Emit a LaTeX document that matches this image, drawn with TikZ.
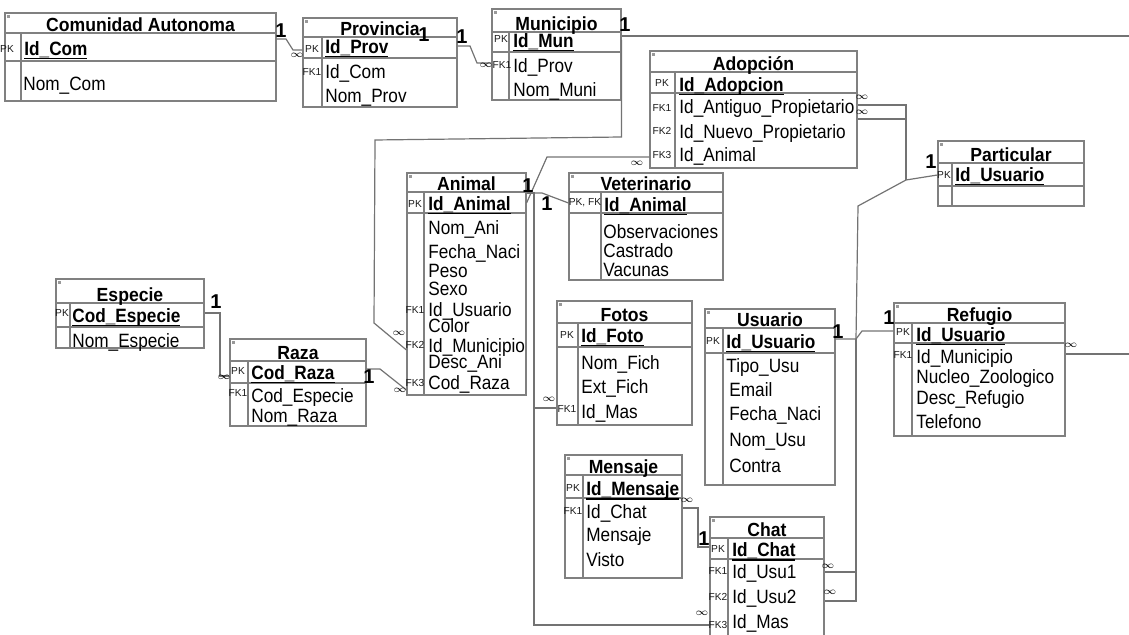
\documentclass[tikz,border=0pt]{standalone}
\usepackage{fontspec}
\setmainfont{Liberation Sans}
\usetikzlibrary{fit}

\newcommand{\atrfont}{\fontsize{8.6}{10}\selectfont}
\newcommand{\titfont}{\fontsize{8.8}{10}\selectfont\bfseries}
\newcommand{\clavefont}{\fontsize{5.1}{6}\selectfont}
\newcommand{\unofont}{\fontsize{10}{11}\selectfont\bfseries}
\newcommand{\muchosfont}{\fontsize{5}{6}\selectfont}
\newcommand{\alto}[1]{\scalebox{1}[1.12]{#1}}
\newcommand{\idpk}[1]{\sbox0{\bfseries #1}\rlap{\rule[-1.8pt]{\wd0}{0.7pt}}\alto{\usebox0}}

\tikzset{
  tabframe/.style={draw=black!50, line width=0.55pt, inner sep=0pt},
  tabline/.style={draw=black!50, line width=0.55pt},
  tabtitle/.style={font=\titfont, inner sep=0pt, text height=6.8pt, text depth=0pt},
  attr/.style={font=\atrfont, anchor=west, inner sep=0pt, text height=6.9pt, text depth=0pt},
  keylab/.style={font=\clavefont, inner sep=0pt, text=black!90},
  lbluno/.style={font=\unofont, inner sep=0pt},
  lblmuchos/.style={font=\muchosfont, inner sep=0pt},
  rel/.style={draw=black!55, line width=0.6pt},
}

% name, left, top, right, bottom, title row, pk row, key column, title
\newcommand{\tabla}[9]{%
  \node[tabframe, fit={(#2,#3) (#4,#5)}] (#1) {};
  \draw[tabline] (#2,#6) -- (#4,#6);
  \draw[tabline] (#2,#7) -- (#4,#7);
  \draw[tabline] (#8,#6) -- (#8,#5);
  \fill[black!40] (#2+2,#3+2) rectangle (#2+5,#3+5);
  \node[tabtitle] (#1-tit) at ({(#2+#4)/2},#6-8) {\scalebox{1}[1.08]{#9}};
}

\begin{document}
\begin{tikzpicture}[x=0.5pt, y=-0.5pt]
\useasboundingbox (0,0) rectangle (1129,635);
\clip (0,0) rectangle (1129,635);

\tabla{com}{5}{13}{276}{101}{33}{61}{21}{Comunidad Autonoma}
\tabla{prov}{303}{18}{457}{107}{37}{58}{322}{Provincia}
\tabla{mun}{492}{9}{621}{100}{32}{52}{509}{Municipio}
\tabla{adop}{650}{51}{857}{168}{72}{93}{675}{Adopción}
\tabla{part}{938}{141}{1084}{206}{163}{186}{952}{Particular}
\tabla{anim}{407}{173}{526}{395}{192}{213}{424}{Animal}
\tabla{vet}{569}{173}{723}{280}{192}{213}{601}{Veterinario}
\tabla{esp}{56}{279}{204}{348}{303}{327}{70}{Especie}
\tabla{raza}{230}{339}{366}{426}{361}{383}{248}{Raza}
\tabla{fotos}{557}{301}{692}{425}{323}{347}{578}{Fotos}
\tabla{usu}{705}{309}{835}{485}{328}{353}{723}{Usuario}
\tabla{refu}{894}{303}{1065}{436}{323}{343}{912}{Refugio}
\tabla{mens}{565}{455}{682}{578}{475}{498}{583}{Mensaje}
\tabla{chat}{710}{517}{824}{660}{538}{559}{728}{Chat}

\node[keylab] (com-k1) at (7,49) {PK};
\node[attr] (com-pk) at (24,49) {\idpk{Id\_Com}};
\node[attr] (com-1) at (23,84) {\alto{Nom\_Com}};

\node[keylab] (prov-k1) at (312,49) {PK};
\node[keylab] (prov-k2) at (312,72) {FK1};
\node[attr] (prov-pk) at (325,47) {\idpk{Id\_Prov}};
\foreach \yy/\nom [count=\i] in {72/Id\_Com, 96/Nom\_Prov}
  \node[attr] (prov-\i) at (325,\yy) {\alto{\nom}};

\node[keylab] (mun-k1) at (501,39) {PK};
\node[keylab] (mun-k2) at (502,65) {FK1};
\node[attr] (mun-pk) at (513,41) {\idpk{Id\_Mun}};
\foreach \yy/\nom [count=\i] in {66/Id\_Prov, 90/Nom\_Muni}
  \node[attr] (mun-\i) at (513,\yy) {\alto{\nom}};

\node[keylab] (adop-k1) at (662,83) {PK};
\node[keylab] (adop-k2) at (662,108) {FK1};
\node[keylab] (adop-k3) at (662,131) {FK2};
\node[keylab] (adop-k4) at (662,155) {FK3};
\node[attr] (adop-pk) at (679,85) {\idpk{Id\_Adopcion}};
\foreach \yy/\nom [count=\i] in {107/Id\_Antiguo\_Propietario, 132/Id\_Nuevo\_Propietario, 155/Id\_Animal}
  \node[attr] (adop-\i) at (679,\yy) {\alto{\nom}};

\node[keylab] (part-k1) at (944,175) {PK};
\node[attr] (part-pk) at (955,175) {\idpk{Id\_Usuario}};

\node[keylab] (anim-k1) at (415,204) {PK};
\node[keylab] (anim-k2) at (415,310) {FK1};
\node[keylab] (anim-k3) at (415,345) {FK2};
\node[keylab] (anim-k4) at (415,383) {FK3};
\node[attr] (anim-pk) at (428,204) {\idpk{Id\_Animal}};
\foreach \yy/\nom [count=\i] in {228/Nom\_Ani, 252/Fecha\_Naci, 271/Peso, 289/Sexo, 310/Id\_Usuario, 326/Color, 346/Id\_Municipio, 362/Desc\_Ani, 383/Cod\_Raza}
  \node[attr] (anim-\i) at (428,\yy) {\alto{\nom}};

\node[keylab] (vet-k1) at (585,203) {PK, FK};
\node[attr] (vet-pk) at (604,205) {\idpk{Id\_Animal}};
\foreach \yy/\nom [count=\i] in {232/Observaciones, 251/Castrado, 270/Vacunas}
  \node[attr] (vet-\i) at (603,\yy) {\alto{\nom}};

\node[keylab] (esp-k1) at (62,313) {PK};
\node[attr] (esp-pk) at (72,316) {\idpk{Cod\_Especie}};
\node[attr] (esp-1) at (72,341) {\alto{Nom\_Especie}};

\node[keylab] (raza-k1) at (238,371) {PK};
\node[keylab] (raza-k2) at (238,393) {FK1};
\node[attr] (raza-pk) at (251,373) {\idpk{Cod\_Raza}};
\foreach \yy/\nom [count=\i] in {396/Cod\_Especie, 416/Nom\_Raza}
  \node[attr] (raza-\i) at (251,\yy) {\alto{\nom}};

\node[keylab] (fotos-k1) at (567,335) {PK};
\node[keylab] (fotos-k2) at (567,409) {FK1};
\node[attr] (fotos-pk) at (581,336) {\idpk{Id\_Foto}};
\foreach \yy/\nom [count=\i] in {363/Nom\_Fich, 387/Ext\_Fich, 412/Id\_Mas}
  \node[attr] (fotos-\i) at (581,\yy) {\alto{\nom}};

\node[keylab] (usu-k1) at (713,341) {PK};
\node[attr] (usu-pk) at (726,342) {\idpk{Id\_Usuario}};
\node[attr] (usu-1) at (726,366) {\alto{Tipo\_Usu}};
\foreach \yy/\nom [count=\i from 2] in {390/Email, 414/Fecha\_Naci, 440/Nom\_Usu, 466/Contra}
  \node[attr] (usu-\i) at (729,\yy) {\alto{\nom}};

\node[keylab] (refu-k1) at (903,332) {PK};
\node[keylab] (refu-k2) at (903,355) {FK1};
\node[attr] (refu-pk) at (916,335) {\idpk{Id\_Usuario}};
\foreach \yy/\nom [count=\i] in {357/Id\_Municipio, 377/Nucleo\_Zoologico, 398/Desc\_Refugio, 422/Telefono}
  \node[attr] (refu-\i) at (916,\yy) {\alto{\nom}};

\node[keylab] (mens-k1) at (573,488) {PK};
\node[keylab] (mens-k2) at (573,511) {FK1};
\node[attr] (mens-pk) at (586,489) {\idpk{Id\_Mensaje}};
\foreach \yy/\nom [count=\i] in {512/Id\_Chat, 535/Mensaje, 560/Visto}
  \node[attr] (mens-\i) at (586,\yy) {\alto{\nom}};

\node[keylab] (chat-k1) at (718,549) {PK};
\node[keylab] (chat-k2) at (718,571) {FK1};
\node[keylab] (chat-k3) at (718,597) {FK2};
\node[keylab] (chat-k4) at (718,625) {FK3};
\node[attr] (chat-pk) at (732,550) {\idpk{Id\_Chat}};
\foreach \yy/\nom [count=\i] in {572/Id\_Usu1, 597/Id\_Usu2, 622/Id\_Mas}
  \node[attr] (chat-\i) at (732,\yy) {\alto{\nom}};

\draw[rel] (com.east |- 0,39) -- (286,39) -- (293,50) -- (prov.west |- 0,50);
\draw[rel] (prov.east |- 0,46) -- (470,46) -- (477,63) -- (mun.west |- 0,63);
\draw[rel] (mun.east |- 0,36) -- (1145,36) -- (1145,354) -- (refu.east |- 0,354);
\draw[rel] (mun.east |- 0,40) -- (mun.east |- 0,137) -- (375,140) -- (374,323) -- (anim.west |- 0,350);
\draw[rel] (anim.east |- 0,203) -- (547,157) -- (adop.west |- 0,157);
\draw[rel] (anim.east |- 0,193) -- (542,193) -- (vet.west |- 0,203);
\draw[rel] (anim.east |- 0,193) -- (534,193) -- (534,625) -- (chat.west |- 0,625);
\coordinate (fotosj) at (534,408);
\draw[rel] (fotosj) -- (fotos.west |- fotosj);
\draw[rel] (esp.east |- 0,313) -- (220,313) -- (220,376) -- (raza.west |- 0,376);
\draw[rel] (raza.east |- 0,369) -- (380,369) -- (anim.west |- 0,390);
\draw[rel] (chat.west |- 0,547) -- (698,547) -- (698,508) -- (mens.east |- 0,508);
\coordinate (hub) at (856,339);
\coordinate (hubup) at (906,180);
\draw[rel] (usu.east |- hub) -- (hub) -- (858,206) -- (hubup) -- (part.west |- 0,175);
\draw[rel] (adop.east |- 0,105) -- (906,105) -- (hubup);
\draw[rel] (adop.east |- 0,119) -- (906,119);
\draw[rel] (hub) -- (862,331) -- (refu.west |- 0,331);
\draw[rel] (hub) -- (856,601) -- (chat.east |- 0,601);
\draw[rel] (856,572) -- (chat.east |- 0,572);

\foreach \p [count=\i] in {(281,31),(424,35),(462,37),(625,25),(528,186),(547,204),(216,302),(369,377),(838,332),(931,162),(889,318),(704,539)}
  \node[lbluno] (uno-\i) at \p {1};
\foreach \p [count=\i] in {(297,55),(486,65),(862,97),(862,112),(637,163),(399,333),(400,390),(224,377),(549,399),(1071,345),(687,500),(828,566),(830,592),(702,613)}
  \node[lblmuchos] (muchos-\i) at \p {$\infty$};
\end{tikzpicture}
\end{document}
